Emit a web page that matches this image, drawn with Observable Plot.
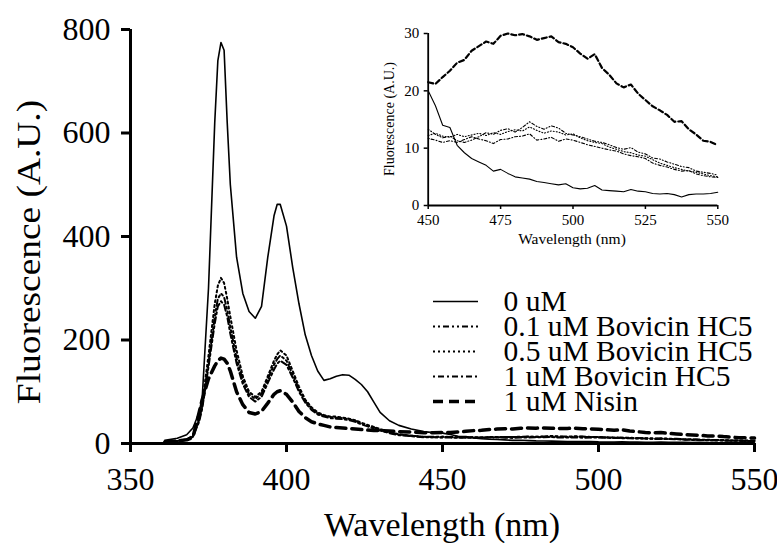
<!DOCTYPE html>
<html>
<head>
<meta charset="utf-8">
<script src="https://cdn.jsdelivr.net/npm/d3@7"></script>
<script src="https://cdn.jsdelivr.net/npm/@observablehq/plot@0.6"></script>
<style>
html, body { margin: 0; padding: 0; background: #fff; }
#wrap { position: relative; width: 777px; height: 543px; overflow: hidden; font-family: "Liberation Serif", "Times New Roman", Times, serif; }
#wrap svg { background: transparent !important; font-family: "Liberation Serif", "Times New Roman", Times, serif !important; }
#wrap svg text { font-family: "Liberation Serif", "Times New Roman", Times, serif !important; }
.abs { position: absolute; }
</style>
</head>
<body>
<div id="wrap"></div>
<script>
// ---- data ----
const seriesNames = ["0 uM", "0.1 uM Bovicin HC5", "0.5 uM Bovicin HC5", "1 uM Bovicin HC5", "1 uM Nisin"];

const wlMain = [361,365,368,370,372,373,375,377,378,379,380,381,382,384,386,388,390,392,394,396,397,398,400,402,404,406,408,410,412,414,416,418,420,422,424,426,428,430,433,436,440,444,447];
const wlTail = [450,452.5,455,457.5,460,462.5,465,467.5,470,472.5,475,477.5,480,482.5,485,487.5,490,492.5,495,497.5,500,502.5,505,507.5,510,512.5,515,517.5,520,522.5,525,527.5,530,532.5,535,537.5,540,542.5,545,547.5,550];

const main0uM   = [6,10,17,30,60,90,300,620,740,775,760,620,500,360,290,255,242,265,360,440,462,462,420,340,270,210,170,140,122,125,130,133,132,124,114,100,80,60,44,35,28,23,21];
const main01uM  = [3,5,8,14,45,72,155,245,280,290,283,258,225,165,122,95,86,96,124,152,163,170,160,133,105,82,68,58,54,51,50,49,47,44,39,35,31,27,21,17,15,13,13];
const main05uM  = [3,5,8,15,50,80,170,270,305,320,310,280,245,180,130,100,90,100,130,160,172,180,170,140,110,85,70,60,55,52,52,50,48,45,40,36,32,28,22,18,15,13,12];
const main1uM   = [3,5,7,13,42,68,148,232,265,275,268,245,212,155,115,90,81,90,117,143,154,160,152,127,100,79,65,56,52,49,48,47,45,42,37,33,29,25,20,16,14,12,12];
const mainNisin = [3,5,7,12,60,85,125,150,160,165,163,155,140,100,75,60,57,62,78,95,100,102,95,80,62,50,42,38,35,32,31,30,29,28,27,26,25,25,24,23,22,21,21];

const tail0uM   = [20,17.4,14,13.6,10.5,9.2,8.2,7.6,7,6,6.3,5.6,5,4.8,4.6,4.2,4,3.8,3.6,3.8,3.1,2.9,3,3.5,2.7,2.6,2.5,2.4,2.8,2.5,2.4,2.1,2,2.1,1.9,1.5,1.9,2,2,2.1,2.3];
const tail01uM  = [13.3,12.4,11.8,12.1,11.3,11.0,11.4,12.0,12.7,12.4,13.1,13.4,12.8,13.6,14.6,13.8,13.3,13.9,13.5,12.6,12.3,12.0,11.6,11.2,11.0,10.6,10.1,9.8,10.1,9.3,9.0,8.3,8.1,7.6,7.2,6.8,6.6,6.0,5.8,5.6,5.3];
const tail05uM  = [12.2,12.6,12.1,11.9,12.4,12.0,12.3,12.6,12.2,12.7,12.4,12.9,13.2,13.0,13.7,13.1,12.6,13.0,12.8,12.3,12.5,11.8,11.3,11.0,10.8,10.2,9.8,9.4,9.2,8.8,8.6,8.0,7.4,7.0,6.6,6.3,6.0,5.8,5.5,5.2,5.0];
const tail1uM   = [11.7,11.4,11.0,11.3,11.0,11.5,12.0,11.6,11.3,10.8,11.5,11.6,12.0,12.1,12.5,11.4,11.6,11.9,11.2,11.6,11.4,11.0,10.6,10.3,10.0,9.7,9.5,9.0,8.7,8.5,8.2,7.4,7.0,6.7,6.3,6.0,6.1,5.5,5.2,5.0,4.9];
const tailNisin = [21.5,21.2,22.4,23.5,24.9,25.4,27,27.8,28.6,28.2,29.6,30,29.7,29.9,29.5,28.9,29.2,29.5,28.5,28.2,27.6,26.5,25.6,26.4,24,22.8,21.3,20.6,21.1,19.5,18.4,17.3,16.6,15.8,14.6,14.7,13.3,12.4,11.3,11.1,10.5];

const mainTicksX = [350,400,450,500,550];
const mainTicksY = [0,200,400,600,800];
const insetTicksX = [450,475,500,525,550];
const insetTicksY = [0,10,20,30];

// ---- build ----
const mainVals = [main0uM, main01uM, main05uM, main1uM, mainNisin];
const tailVals = [tail0uM, tail01uM, tail05uM, tail1uM, tailNisin];
const styles = [
  {stroke: "#000", strokeWidth: 1.6},
  {stroke: "#000", strokeWidth: 2, strokeDasharray: "2,3,2,3,6,3"},
  {stroke: "#000", strokeWidth: 2, strokeDasharray: "2,3"},
  {stroke: "#000", strokeWidth: 2, strokeDasharray: "2,3,6,3"},
  {stroke: "#000", strokeWidth: 3.5, strokeDasharray: "10,6"}
];
const series = seriesNames.map((name, i) => {
  const pts = wlMain.map((w, j) => ({wl: w, v: mainVals[i][j]}))
    .concat(wlTail.map((w, j) => ({wl: w, v: tailVals[i][j]})));
  return {name, pts, tail: pts.filter(d => d.wl >= 450)};
});

const FONT = '"Liberation Serif", "Times New Roman", Times, serif';
const wrap = document.getElementById("wrap");

const mainPlot = Plot.plot({
  width: 777, height: 543,
  marginLeft: 130, marginRight: 23, marginTop: 29, marginBottom: 100,
  style: {fontFamily: FONT, fontSize: "32px", color: "#000", background: "transparent"},
  x: {domain: [350, 550], label: null},
  y: {domain: [0, 800], label: null},
  marks: [
    ...series.map((s, i) => Plot.line(s.pts, {x: "wl", y: "v", ...styles[i], strokeLinejoin: "round"})),
    Plot.axisX({ticks: mainTicksX, tickSize: 9, strokeWidth: 3, tickPadding: 15, fontSize: 32, label: null}),
    Plot.axisY({ticks: mainTicksY, tickSize: 9, strokeWidth: 3, tickPadding: 11, fontSize: 32, label: null}),
    Plot.ruleY([0], {strokeWidth: 3}),
    Plot.ruleX([350], {strokeWidth: 3})
  ]
});
mainPlot.classList.add("abs");
mainPlot.style.left = "0px"; mainPlot.style.top = "0px";
wrap.appendChild(mainPlot);

function addText(txt, css) {
  const d = document.createElement("div");
  d.className = "abs";
  d.textContent = txt;
  Object.assign(d.style, {fontFamily: FONT, color: "#000", whiteSpace: "nowrap", lineHeight: "1"}, css);
  wrap.appendChild(d);
  return d;
}
addText("Wavelength (nm)", {left: "442px", top: "525px", fontSize: "34px", transform: "translate(-50%,-50%)"});
addText("Fluorescence (A.U.)", {left: "29px", top: "252px", fontSize: "34px", transform: "translate(-50%,-50%) rotate(-90deg) scaleX(1.1)"});

// inset
const IL = 370, IT = 10, IW = 360, IH = 245;
const insetPlot = Plot.plot({
  width: IW, height: IH,
  marginLeft: 427.7 - IL, marginRight: IL + IW - 717.3, marginTop: 33 - IT, marginBottom: IT + IH - 205,
  style: {fontFamily: FONT, fontSize: "15px", color: "#000", background: "transparent"},
  x: {domain: [450, 550], label: null},
  y: {domain: [0, 30], label: null},
  marks: [
    ...series.map((s, i) => Plot.line(s.tail, {x: "wl", y: "v", stroke: "#000",
      strokeWidth: i === 4 ? 2.2 : 1.1,
      strokeDasharray: i === 4 ? "5,3" : (i === 0 ? null : (i === 2 ? "1,2" : (i === 1 ? "1,2,1,2,3,2" : "1,2,3,2")))})),
    Plot.axisX({ticks: insetTicksX, tickSize: 4, strokeWidth: 1.5, tickPadding: 5, fontSize: 15, label: null}),
    Plot.axisY({ticks: insetTicksY, tickSize: 4, strokeWidth: 1.5, tickPadding: 5, fontSize: 15, label: null}),
    Plot.ruleY([0], {strokeWidth: 1.8}),
    Plot.ruleX([450], {strokeWidth: 1.8})
  ]
});
insetPlot.classList.add("abs");
insetPlot.style.left = IL + "px"; insetPlot.style.top = IT + "px";
wrap.appendChild(insetPlot);
addText("Wavelength (nm)", {left: "572px", top: "239px", fontSize: "15.5px", transform: "translate(-50%,-50%)"});
addText("Fluorescence (A.U.)", {left: "390px", top: "119px", fontSize: "14px", transform: "translate(-50%,-50%) rotate(-90deg)"});

// legend
const LL = 420, LT = 270;
const legendPlot = Plot.plot({
  width: 357, height: 160,
  margin: 0,
  style: {fontFamily: FONT, fontSize: "29.5px", color: "#000", background: "transparent"},
  x: {domain: [0, 1], range: [433 - LL, 478 - LL], axis: null},
  y: {type: "point", domain: seriesNames, range: [288 - LT, 414 - LT], axis: null},
  marks: [
    ...seriesNames.map((n, i) => Plot.ruleY([n], {y: d => d, x1: 0, x2: 1, ...styles[i]})),
    Plot.text(seriesNames, {y: d => d, x: 1, dx: 25, text: d => d, textAnchor: "start", fontSize: 29.5, fill: "#000"})
  ]
});
legendPlot.classList.add("abs");
legendPlot.style.left = LL + "px"; legendPlot.style.top = LT + "px";
wrap.appendChild(legendPlot);
</script>
</body>
</html>
